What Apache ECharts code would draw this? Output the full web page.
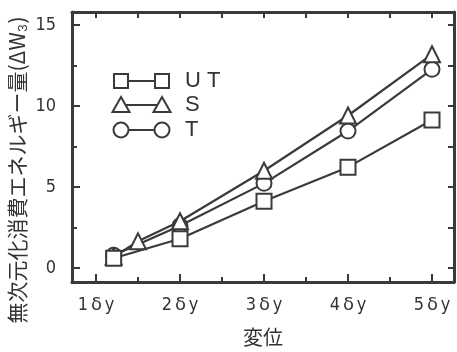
<!DOCTYPE html>
<html><head><meta charset="utf-8">
<script src="https://cdn.jsdelivr.net/npm/echarts@6/dist/echarts.min.js"></script>
<style>html,body{margin:0;padding:0;background:#fff}#c{width:457px;height:352px}</style>
</head><body><div id="c"></div>
<script>
// ---- data ----
const seriesNames = ['UT', 'S', 'T'];
const utData = [[1.21, 0.6], [2, 1.8], [3, 4.12], [4, 6.22], [5, 9.13]];
const sData  = [[1.21, 0.7], [1.5, 1.64], [2, 2.88], [3, 6.0], [4, 9.41], [5, 13.19]];
const tData  = [[1.21, 0.78], [2, 2.6], [3, 5.22], [4, 8.45], [5, 12.26]];
const xTickValues = [1, 2, 3, 4, 5];
const xMinorValues = [1.5, 2.5, 3.5, 4.5];
const xTopValues = [1, 1.5, 2, 2.5, 3, 3.5, 4, 4.5, 5];
const yTickValues = [0, 5, 10, 15];
const yMinorValues = [2.5, 7.5, 12.5];
const yRightValues = [0, 2.5, 5, 7.5, 10, 12.5, 15];
const xTitle = '変位';
const yTitle = '無次元化消費エネルギー量(ΔW₃)';

const C = '#3a3a3a';
const TXT = '#333';
const NUMFONT = "'Liberation Sans Narrow','DejaVu Sans Condensed','Liberation Sans',sans-serif";
const xMin = 0.714, xMax = 5.262, yMin = -0.87, yMax = 15.8;

const chart = echarts.init(document.getElementById('c'), null, {renderer: 'canvas'});

function xAxisBase(extra) {
  return Object.assign({
    type: 'value', min: xMin, max: xMax, gridIndex: 0,
    splitLine: {show: false},
    axisLine: {show: false, onZero: false, lineStyle: {color: C, width: 3}},
    axisLabel: {show: false},
    axisTick: {show: false}
  }, extra);
}
function yAxisBase(extra) {
  return Object.assign({
    type: 'value', min: yMin, max: yMax, gridIndex: 0,
    splitLine: {show: false},
    axisLine: {show: false, onZero: false, lineStyle: {color: C, width: 3}},
    axisLabel: {show: false},
    axisTick: {show: false}
  }, extra);
}
const lineOn = {show: true, onZero: false, lineStyle: {color: C, width: 3}};
const lineOff = {show: false, onZero: false};

const symStyle = {color: '#fff', borderColor: C, borderWidth: 2};
function mkSeries(name, data, symbol, size, z) {
  return {
    name, type: 'line', data, symbol, symbolSize: size, showAllSymbol: true,
    xAxisIndex: 0, yAxisIndex: 0, z,
    lineStyle: {color: C, width: 2.2},
    itemStyle: symStyle,
    emphasis: {disabled: true},
    animation: false
  };
}

// legend drawn as graphic
const legendRows = [
  {label: 'UT', y: 81, sym: 'rect'},
  {label: 'S', y: 105, sym: 'tri'},
  {label: 'T', y: 130, sym: 'circle'}
];
const graphics = [];
legendRows.forEach(r => {
  const x1 = 121, x2 = 162;
  graphics.push({type: 'line', shape: {x1, y1: r.y, x2, y2: r.y}, style: {stroke: C, lineWidth: 2.2}, z: 10});
  [x1, x2].forEach(cx => {
    let el;
    if (r.sym === 'rect') el = {type: 'rect', shape: {x: cx - 7, y: r.y - 7, width: 14, height: 14}};
    else if (r.sym === 'circle') el = {type: 'circle', shape: {cx, cy: r.y, r: 7.5}};
    else el = {type: 'polygon', shape: {points: [[cx, r.y - 8], [cx + 8.5, r.y + 7], [cx - 8.5, r.y + 7]]}};
    el.style = {fill: '#fff', stroke: C, lineWidth: 2};
    el.z = 11;
    graphics.push(el);
  });
  graphics.push({
    type: 'text', x: 185, y: r.y, z: 11,
    style: {
      text: r.label.split('').map(ch => '{l|' + ch + '}').join(''),
      rich: {l: {width: 22, align: 'left', fontSize: 22, fontFamily: "'Liberation Sans',sans-serif", fill: TXT}},
      verticalAlign: 'middle', fill: TXT, fontSize: 22
    }
  });
});
graphics.push({
  type: 'text', x: 17, y: 170, rotation: Math.PI / 2, z: 11,
  style: {text: yTitle, fontSize: 21, fontFamily: "'Noto Sans CJK JP',sans-serif", fill: TXT, align: 'center', verticalAlign: 'middle'}
});

const option = {
  backgroundColor: '#fff',
  animation: false,
  grid: {left: 72, right: 3, top: 12, bottom: 70, containLabel: false},
  xAxis: [
    xAxisBase({
      position: 'bottom',
      axisLine: lineOn,
      axisTick: {show: true, inside: true, length: 8, customValues: xTickValues, lineStyle: {color: C, width: 2}},
      axisLabel: {
        show: true, customValues: xTickValues, margin: 14,
        formatter: v => '{n|' + v + '}{d|δ}{y|y}',
        rich: {
          n: {fontSize: 18, fontFamily: NUMFONT, color: TXT, width: 13, align: 'center'},
          d: {fontSize: 18, fontFamily: "'DejaVu Sans',sans-serif", color: TXT, width: 14, align: 'center'},
          y: {fontSize: 18, fontFamily: NUMFONT, color: TXT, width: 12, align: 'center'}
        }
      },
      name: xTitle, nameLocation: 'middle', nameGap: 45,
      nameTextStyle: {fontSize: 20, fontFamily: "'Noto Sans CJK JP',sans-serif", color: TXT}
    }),
    xAxisBase({
      position: 'bottom',
      axisLine: lineOff,
      axisTick: {show: true, inside: true, length: 5, customValues: xMinorValues, lineStyle: {color: C, width: 2}}
    }),
    xAxisBase({
      position: 'top',
      axisLine: lineOn,
      axisTick: {show: true, inside: true, length: 6, customValues: xTopValues, lineStyle: {color: C, width: 2}}
    })
  ],
  yAxis: [
    yAxisBase({
      position: 'left',
      axisLine: lineOn,
      axisTick: {show: true, inside: true, length: 8, customValues: yTickValues, lineStyle: {color: C, width: 2}},
      axisLabel: {show: true, customValues: yTickValues, margin: 16, fontSize: 18, fontFamily: NUMFONT, color: TXT}
    }),
    yAxisBase({
      position: 'left',
      axisLine: lineOff,
      axisTick: {show: true, inside: true, length: 5, customValues: yMinorValues, lineStyle: {color: C, width: 2}}
    }),
    yAxisBase({
      position: 'right',
      axisLine: lineOn,
      axisTick: {show: true, inside: true, length: 6, customValues: yRightValues, lineStyle: {color: C, width: 2}}
    })
  ],
  series: [
    mkSeries(seriesNames[2], tData, 'circle', 15, 2),
    mkSeries(seriesNames[1], sData, 'triangle', 16, 3),
    mkSeries(seriesNames[0], utData, 'rect', 15, 4)
  ],
  graphic: graphics
};
chart.setOption(option);
</script>
</body></html>
